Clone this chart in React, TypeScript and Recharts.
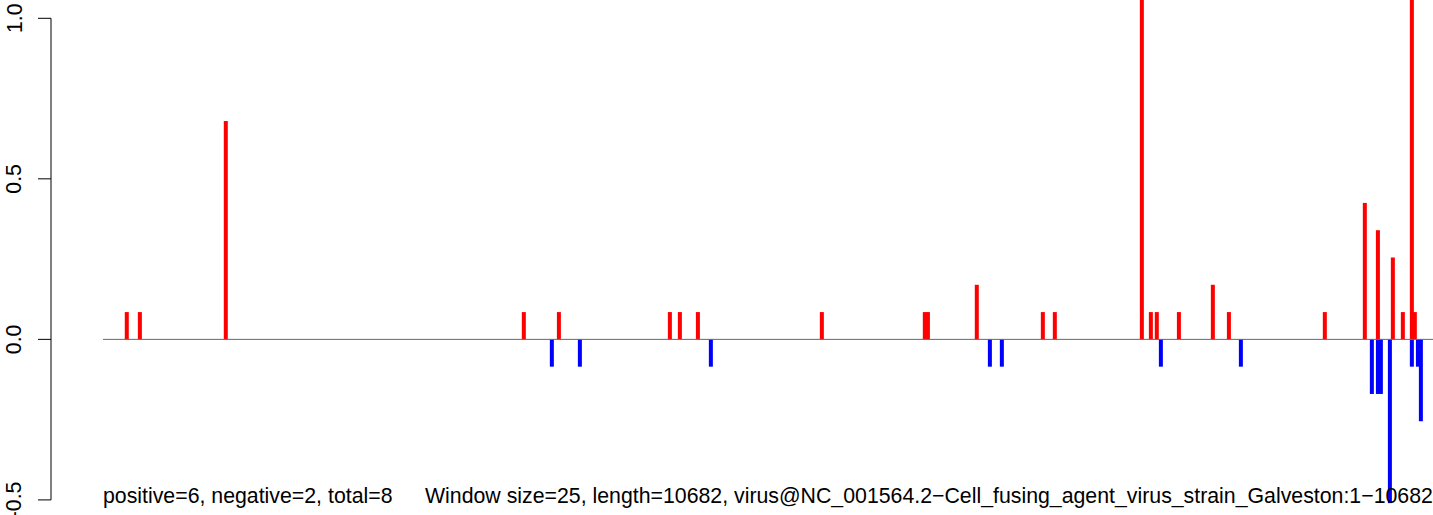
import React from "react";
import { ComposedChart, Bar, XAxis, YAxis, ReferenceLine } from "recharts";

// genome positions (nt) and window scores
const redPositions = [194, 300, 996, 3410, 3694, 4593, 4674, 4820, 5824, 6658, 6683, 7079, 7614, 7711, 8416, 8489, 8537, 8716, 8991, 9121, 9898, 10222, 10328, 10449, 10530, 10603, 10627];
const redValues = [0.085, 0.085, 0.68, 0.085, 0.085, 0.085, 0.085, 0.085, 0.085, 0.085, 0.085, 0.17, 0.085, 0.085, 1.2, 0.085, 0.085, 0.085, 0.17, 0.085, 0.085, 0.425, 0.34, 0.255, 0.085, 1.2, 0.085];
const bluePositions = [3637, 3864, 4925, 7185, 7282, 8570, 9218, 10279, 10328, 10352, 10425, 10603, 10652, 10676];
const blueValues = [-0.085, -0.085, -0.085, -0.085, -0.085, -0.085, -0.085, -0.17, -0.17, -0.17, -0.51, -0.085, -0.085, -0.255];
const yTicks = [-0.5, 0, 0.5, 1.0];
const xDomain = [-421, 10773];
const yDomain = [-0.547, 1.057];
const statsText = "positive=6, negative=2, total=8";
const infoText = "Window size=25, length=10682, virus@NC_001564.2\u2212Cell_fusing_agent_virus_strain_Galveston:1\u221210682";

type Row = { pos: number; red: number; blue: number };
const rowMap = new Map<number, Row>();
redPositions.forEach((p, i) => {
  const r = rowMap.get(p) || { pos: p, red: 0, blue: 0 };
  r.red = redValues[i];
  rowMap.set(p, r);
});
bluePositions.forEach((p, i) => {
  const r = rowMap.get(p) || { pos: p, red: 0, blue: 0 };
  r.blue = blueValues[i];
  rowMap.set(p, r);
});
const data = Array.from(rowMap.values()).sort((a, b) => a.pos - b.pos);

const FONT = "'Liberation Sans', Arial, Helvetica, sans-serif";
const FS = 21.3;

const makeShape = (color: string) => (props: any) => {
  const { x, y, width, height } = props;
  if (!height || Math.abs(height) < 0.01) return null;
  const cx = x + width / 2;
  const y0 = Math.min(y, y + height);
  const h = Math.abs(height);
  return <rect x={cx - 2} y={y0} width={4} height={h} fill={color} />;
};

const YTick = (props: any) => {
  const { x, y, payload } = props;
  const tx = x - 16.5;
  return (
    <text
      x={tx}
      y={y}
      transform={`rotate(-90, ${tx}, ${y})`}
      textAnchor="middle"
      fontSize={FS}
      fontFamily={FONT}
      fill="#000"
    >
      {Number(payload.value).toFixed(1)}
    </text>
  );
};

export default function App() {
  return (
    <div style={{ position: "absolute", left: 0, top: 0, width: 1433, height: 515, background: "#fff" }}>
      <ComposedChart
        width={1433}
        height={515}
        data={data}
        stackOffset="sign"
        margin={{ top: 0, right: 0, bottom: 0, left: 0 }}
      >
        <XAxis dataKey="pos" type="number" domain={xDomain} hide allowDataOverflow />
        <YAxis
          type="number"
          domain={yDomain}
          ticks={yTicks}
          allowDataOverflow
          width={51}
          axisLine={false}
          tickSize={13}
          tickMargin={0}
          tickLine={{ stroke: "#000", strokeWidth: 1 }}
          tick={<YTick />}
        />
        <ReferenceLine
          segment={[{ x: xDomain[0], y: yTicks[0] }, { x: xDomain[0], y: yTicks[yTicks.length - 1] }]}
          stroke="#000"
          strokeWidth={1}
        />
        <ReferenceLine
          segment={[{ x: 0, y: 0 }, { x: xDomain[1], y: 0 }]}
          stroke="#666"
          strokeWidth={1}
        />
        <Bar dataKey="red" stackId="s" fill="#ff0000" barSize={4} isAnimationActive={false} shape={makeShape("#ff0000")} />
        <Bar dataKey="blue" stackId="s" fill="#0000ff" barSize={4} isAnimationActive={false} shape={makeShape("#0000ff")} />
      </ComposedChart>
      <svg width={1433} height={515} style={{ position: "absolute", left: 0, top: 0, pointerEvents: "none" }}>
        <text x={103} y={503} fontSize={FS} fontFamily={FONT} fill="#000">{statsText}</text>
        <text x={425} y={503} fontSize={FS} fontFamily={FONT} fill="#000">{infoText}</text>
      </svg>
    </div>
  );
}
